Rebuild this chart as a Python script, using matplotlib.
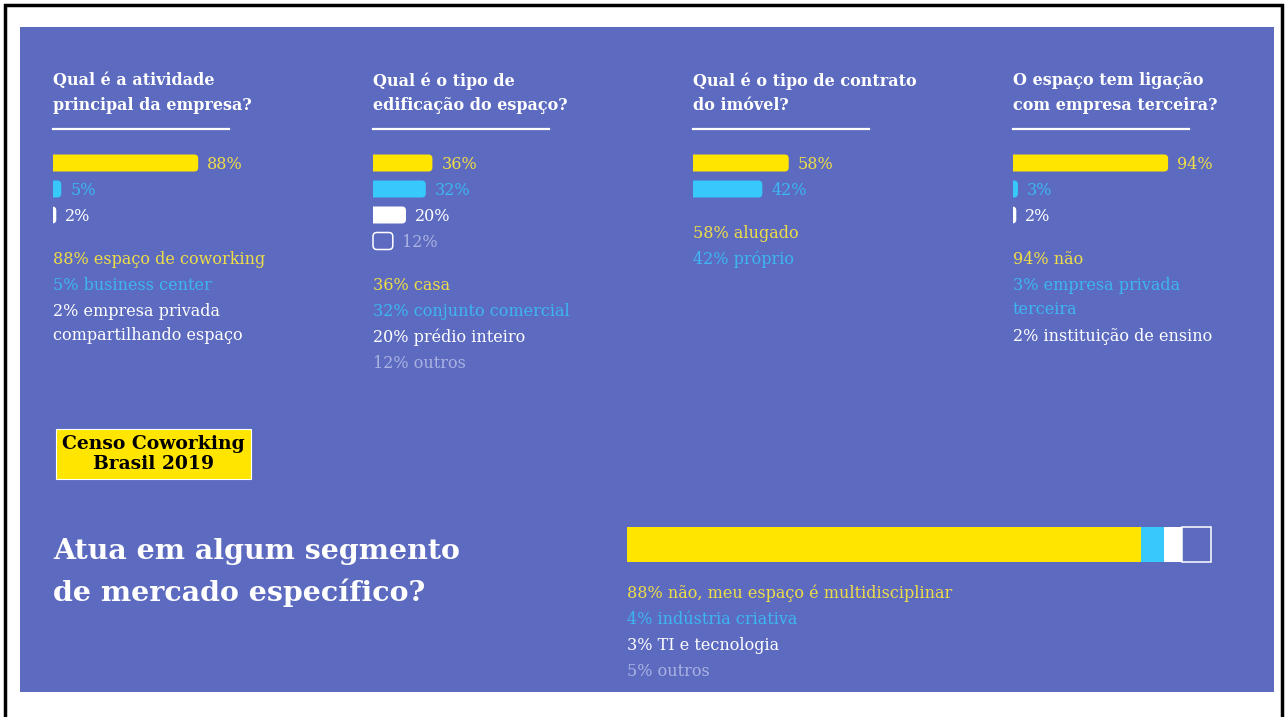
import matplotlib
matplotlib.use("Agg")
import matplotlib.pyplot as plt
from matplotlib.patches import FancyBboxPatch, Rectangle
from matplotlib.lines import Line2D

W, H = 1285, 717

# ---- data ----
titles = [
    "Qual é a atividade\nprincipal da empresa?",
    "Qual é o tipo de\nedificação do espaço?",
    "Qual é o tipo de contrato\ndo imóvel?",
    "O espaço tem ligação\ncom empresa terceira?",
]
activity_values = [88, 5, 2]
activity_labels = ["espaço de coworking", "business center",
                   "empresa privada\ncompartilhando espaço"]
building_values = [36, 32, 20, 12]
building_labels = ["casa", "conjunto comercial", "prédio inteiro", "outros"]
contract_values = [58, 42]
contract_labels = ["alugado", "próprio"]
third_party_values = [94, 3, 2]
third_party_labels = ["não", "empresa privada\nterceira", "instituição de ensino"]

segment_question = "Atua em algum segmento\nde mercado específico?"
segment_values = [88, 4, 3, 5]
segment_labels = ["não, meu espaço é multidisciplinar", "indústria criativa",
                  "TI e tecnologia", "outros"]

badge_text = "Censo Coworking\nBrasil 2019"

# ---- style ----
PANEL = "#5C6AC0"
BAR_COLORS = ["#FFE500", "#36C9FA", "#FFFFFF", None]   # None = outline only
TEXT_COLORS = ["#EFDD48", "#3DB6F2", "#FFFFFF", "#AAB2E2"]

plt.rcParams["font.family"] = "DejaVu Serif"


def fx(x):
    return x / W


def fy(y):
    return 1 - y / H


fig = plt.figure(figsize=(W / 100, H / 100), dpi=100)
fig.patch.set_facecolor("white")

# outer frame and blue panel (kept under the axes)
fig.patches.append(Rectangle((fx(5), fy(730)), fx(1282) - fx(5), fy(5) - fy(730),
                             transform=fig.transFigure, facecolor="none",
                             edgecolor="black", linewidth=2.5, zorder=-10))
fig.patches.append(Rectangle((fx(20), fy(692)), fx(1274) - fx(20), fy(27) - fy(692),
                             transform=fig.transFigure, facecolor=PANEL,
                             edgecolor="none", zorder=-9))


def rounded_barh(ax, values, height, px_x, px_y, r_px=4):
    """barh, then swap each bar for a rounded one (square on the left)."""
    bars = ax.barh(range(len(values)), values, height=height)
    aspect = px_x / px_y
    r = r_px / px_x
    for i, b in enumerate(bars):
        x0, y0 = b.get_xy()
        w, h = b.get_width(), b.get_height()
        b.remove()
        color = BAR_COLORS[i]
        if color is None:
            p = FancyBboxPatch((x0, y0), w, h,
                               boxstyle=f"round,pad=0,rounding_size={r}",
                               mutation_aspect=aspect, facecolor="none",
                               edgecolor="white", linewidth=1.1, clip_on=False)
        else:
            p = FancyBboxPatch((x0 - 2 * r, y0), w + 2 * r, h,
                               boxstyle=f"round,pad=0,rounding_size={r}",
                               mutation_aspect=aspect, facecolor=color,
                               edgecolor="none")
        ax.add_patch(p)
        ax.annotate(f"{values[i]}%", (w, i), xytext=(6.5, -1),
                    textcoords="offset points", va="center", ha="left",
                    color=TEXT_COLORS[i], fontsize=11.5)


columns = [
    (activity_values, activity_labels),
    (building_values, building_labels),
    (contract_values, contract_labels),
    (third_party_values, third_party_labels),
]
col_x = [53, 373, 693, 1013]
ROW = 26
PX_PER_PCT = 1.65

for k, (vals, labels) in enumerate(columns):
    x = col_x[k]
    fig.text(fx(x), fy(72), titles[k], ha="left", va="top", color="white",
             fontsize=11.5, fontweight="bold", linespacing=1.6)
    fig.add_artist(Line2D([fx(x), fx(x + 176)], [fy(129), fy(129)],
                          color="white", linewidth=1.6))

    n = len(vals)
    ax = fig.add_axes([fx(x), fy(150 + n * ROW), 100 * PX_PER_PCT / W, n * ROW / H])
    ax.set_xlim(0, 100)
    ax.set_ylim(n - 0.5, -0.5)
    ax.axis("off")
    rounded_barh(ax, vals, 17 / ROW, PX_PER_PCT, ROW)

    y = 150 + n * ROW + 23
    for i, (v, lab) in enumerate(zip(vals, labels)):
        txt = f"{v}% {lab}"
        fig.text(fx(x), fy(y), txt, ha="left", va="top", color=TEXT_COLORS[i],
                 fontsize=11.5, linespacing=1.55)
        y += ROW * (txt.count("\n") + 1) - txt.count("\n")

# badge
fig.text(fx(153.5), fy(454), badge_text, ha="center", va="center", color="black",
         fontsize=13.5, fontweight="bold", linespacing=1.1,
         bbox=dict(boxstyle="square,pad=0.33", facecolor="#FFE500",
                   edgecolor="white", linewidth=0.8))

# bottom question
fig.text(fx(53), fy(538), segment_question, ha="left", va="top", color="white",
         fontsize=20.5, fontweight="bold", linespacing=1.6)

# stacked bar
axb = fig.add_axes([fx(627), fy(562), (1211 - 627) / W, 35 / H])
axb.set_xlim(0, 100)
axb.set_ylim(-0.5, 0.5)
axb.axis("off")
left = 0
for i, v in enumerate(segment_values):
    if BAR_COLORS[i] is None:
        axb.barh(0, v, left=left, height=1, facecolor="none", edgecolor="white",
                 linewidth=1.1, clip_on=False)
    else:
        axb.barh(0, v, left=left, height=1, color=BAR_COLORS[i])
    left += v

y = 585
for i, (v, lab) in enumerate(zip(segment_values, segment_labels)):
    fig.text(fx(627), fy(y), f"{v}% {lab}", ha="left", va="top",
             color=TEXT_COLORS[i], fontsize=11.5)
    y += ROW

fig.savefig("out.png", dpi=100, facecolor=fig.get_facecolor())
